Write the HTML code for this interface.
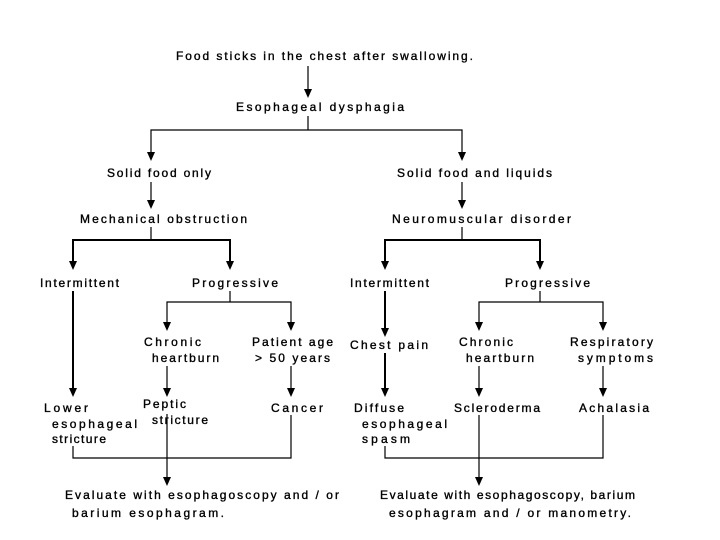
<!DOCTYPE html>
<html><head><meta charset="utf-8"><style>
html,body{margin:0;padding:0;background:#fff;}
svg{display:block;}
text{font-family:"Liberation Sans",sans-serif;font-size:12px;fill:#000;stroke:#000;stroke-width:0.35;letter-spacing:1px;}
</style></head><body>
<svg width="720" height="540" viewBox="0 0 720 540" xmlns="http://www.w3.org/2000/svg">
<g stroke="#000" stroke-width="1.2" fill="none">
<line x1="308" y1="66" x2="308" y2="92"/>
<line x1="308" y1="116" x2="308" y2="130"/>
<polyline points="151,156 151,130 462,130 462,156"/>
<line x1="151" y1="182" x2="151" y2="206"/>
<line x1="462" y1="182" x2="462" y2="206"/>
<line x1="151" y1="227" x2="151" y2="240"/>
<line x1="462" y1="227" x2="462" y2="240"/>
<line x1="230" y1="291" x2="230" y2="302"/>
<polyline points="167,326 167,302 291,302 291,326"/>
<line x1="540" y1="291" x2="540" y2="302"/>
<polyline points="479,326 479,302 603,302 603,326"/>
<line x1="167" y1="366" x2="167" y2="392"/>
<line x1="291" y1="366" x2="291" y2="392"/>
<line x1="479" y1="366" x2="479" y2="392"/>
<line x1="603" y1="366" x2="603" y2="392"/>
<polyline points="73,446 73,458 291,458 291,415"/>
<line x1="167" y1="414" x2="167" y2="480"/>
<polyline points="385,446 385,458 603,458 603,415"/>
<line x1="479" y1="415" x2="479" y2="480"/>
</g>
<g stroke="#000" stroke-width="2" fill="none">
<polyline points="73,264 73,240 230,240 230,264"/>
<polyline points="385,264 385,240 540,240 540,264"/>
<line x1="73" y1="291" x2="73" y2="392"/>
<line x1="385" y1="291" x2="385" y2="330"/>
<line x1="385" y1="353" x2="385" y2="392"/>
</g>
<g fill="#000">
<polygon points="304,89 312,89 308,98"/>
<polygon points="147,152 155,152 151,161"/>
<polygon points="458,152 466,152 462,161"/>
<polygon points="147,200 155,200 151,209"/>
<polygon points="458,200 466,200 462,209"/>
<polygon points="69,261 77,261 73,270"/>
<polygon points="226,261 234,261 230,270"/>
<polygon points="381,261 389,261 385,270"/>
<polygon points="536,261 544,261 540,270"/>
<polygon points="163,322 171,322 167,331"/>
<polygon points="287,322 295,322 291,331"/>
<polygon points="475,322 483,322 479,331"/>
<polygon points="599,322 607,322 603,331"/>
<polygon points="381,328 389,328 385,337"/>
<polygon points="69,388 77,388 73,397"/>
<polygon points="163,388 171,388 167,397"/>
<polygon points="287,388 295,388 291,397"/>
<polygon points="381,388 389,388 385,397"/>
<polygon points="475,388 483,388 479,397"/>
<polygon points="599,388 607,388 603,397"/>
<polygon points="163,477 171,477 167,486"/>
<polygon points="475,477 483,477 479,486"/>
</g>
<g>
<text x="176" y="60" textLength="298" lengthAdjust="spacing">Food sticks in the chest after swallowing.</text>
<text x="236" y="111" textLength="169" lengthAdjust="spacing">Esophageal dysphagia</text>
<text x="107" y="177" textLength="105" lengthAdjust="spacing">Solid food only</text>
<text x="397" y="177" textLength="156" lengthAdjust="spacing">Solid food and liquids</text>
<text x="80" y="223" textLength="168" lengthAdjust="spacing">Mechanical obstruction</text>
<text x="392" y="223" textLength="180" lengthAdjust="spacing">Neuromuscular disorder</text>
<text x="40" y="287" textLength="80" lengthAdjust="spacing">Intermittent</text>
<text x="192" y="287" textLength="87" lengthAdjust="spacing">Progressive</text>
<text x="350" y="287" textLength="80" lengthAdjust="spacing">Intermittent</text>
<text x="505" y="287" textLength="86" lengthAdjust="spacing">Progressive</text>
<text x="144" y="346" textLength="58" lengthAdjust="spacing">Chronic</text>
<text x="152" y="362" textLength="68" lengthAdjust="spacing">heartburn</text>
<text x="252" y="346" textLength="82" lengthAdjust="spacing">Patient age</text>
<text x="255" y="362" textLength="76" lengthAdjust="spacing">&gt; 50 years</text>
<text x="350" y="349" textLength="79" lengthAdjust="spacing">Chest pain</text>
<text x="459" y="346" textLength="55" lengthAdjust="spacing">Chronic</text>
<text x="466" y="362" textLength="69" lengthAdjust="spacing">heartburn</text>
<text x="570" y="346" textLength="84" lengthAdjust="spacing">Respiratory</text>
<text x="578" y="362" textLength="76" lengthAdjust="spacing">symptoms</text>
<text x="44" y="412" textLength="45" lengthAdjust="spacing">Lower</text>
<text x="52" y="428" textLength="86" lengthAdjust="spacing">esophageal</text>
<text x="52" y="443" textLength="55" lengthAdjust="spacing">stricture</text>
<text x="143" y="408" textLength="44" lengthAdjust="spacing">Peptic</text>
<text x="152" y="424" textLength="57" lengthAdjust="spacing">stricture</text>
<text x="271" y="412" textLength="53" lengthAdjust="spacing">Cancer</text>
<text x="354" y="412" textLength="51" lengthAdjust="spacing">Diffuse</text>
<text x="362" y="428" textLength="86" lengthAdjust="spacing">esophageal</text>
<text x="362" y="443" textLength="49" lengthAdjust="spacing">spasm</text>
<text x="454" y="412" textLength="87" lengthAdjust="spacing">Scleroderma</text>
<text x="579" y="412" textLength="71" lengthAdjust="spacing">Achalasia</text>
<text x="65" y="499" textLength="275" lengthAdjust="spacing">Evaluate with esophagoscopy and / or</text>
<text x="72" y="517" textLength="153" lengthAdjust="spacing">barium esophagram.</text>
<text x="380" y="499" textLength="256" lengthAdjust="spacing">Evaluate with esophagoscopy, barium</text>
<text x="389" y="517" textLength="243" lengthAdjust="spacing">esophagram and / or manometry.</text>
</g>
</svg>
</body></html>
